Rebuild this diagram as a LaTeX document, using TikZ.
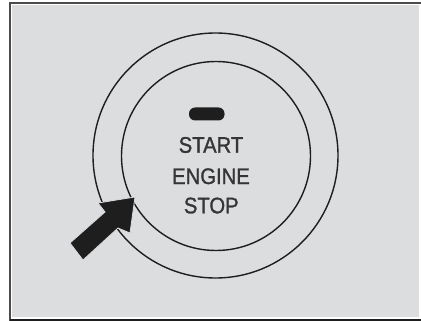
\documentclass[tikz,border=0pt]{standalone}
\usepackage{fontspec}
\newfontfamily\labelfont[FakeStretch=0.9,FakeBold=1.2]{Liberation Sans}
\definecolor{panel}{HTML}{DCDDDF}
\definecolor{ink}{HTML}{1E1E1E}
\tikzset{
  ring/.style={draw=ink, line width=1.4pt},
  label/.style={font=\labelfont\fontsize{22.5}{22.5}\selectfont, text=ink!90, inner sep=0pt, anchor=base},
  pointer/.style={fill=ink, draw=panel, line width=0.8pt, line join=miter},
  lampbox/.style={fill=ink, rounded corners=6pt}
}
\begin{document}
\begin{tikzpicture}[x=1pt,y=-1pt]
\useasboundingbox (0,0) rectangle (421,321);
\fill[white] (0,0) rectangle (421,321);
\fill[panel] (11.5,5.5) rectangle (419,316.5);
\draw[ink!80, line width=1.6pt] (10,321) -- (10,3) -- (421,3);
\draw[ink, line width=1.8pt] (10,319.8) -- (421,319.8);
\node[ring, circle, minimum size=245pt, inner sep=0pt] (outer) at (215.5,155.5) {};
\node[ring, circle, minimum size=189pt, inner sep=0pt] (inner) at (216,156) {};
\path[lampbox] (189,107.5) rectangle (224.5,120.5);
\node[label] (start) at (211,152.7) {START};
\node[label] (engine) at (211,184) {ENGINE};
\node[label] (stop) at (211.3,213.3) {STOP};
\coordinate (tailA) at (70,243);
\coordinate (neckA) at (105,212);
\coordinate (wingA) at (98,203);
\coordinate (tip) at (135,197);
\coordinate (wingB) at (130,233);
\coordinate (neckB) at (118,228);
\coordinate (tailB) at (83,260);
\filldraw[pointer] (tailA) -- (neckA) -- (wingA) -- (tip) -- (wingB) -- (neckB) -- (tailB) -- cycle;
\end{tikzpicture}
\end{document}
